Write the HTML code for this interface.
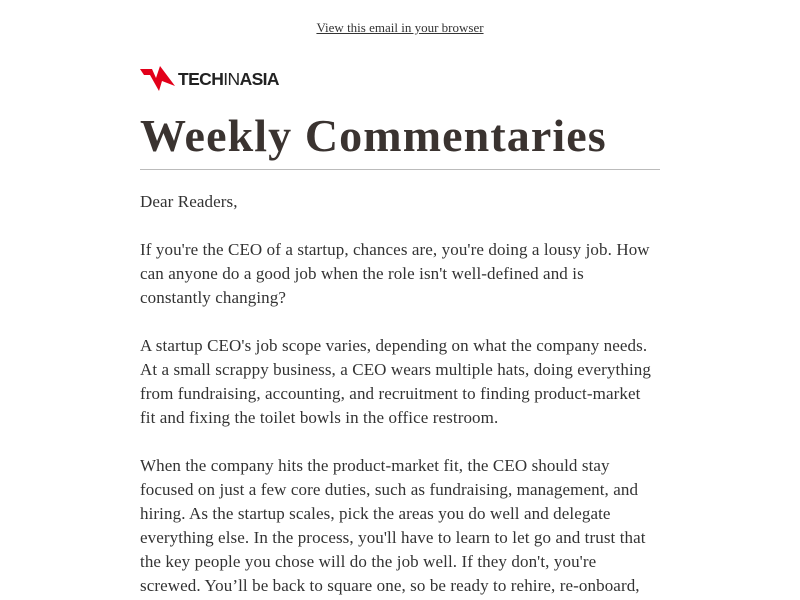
<!DOCTYPE html>
<html><head><meta charset="utf-8"><style>
body{margin:0;width:800px;height:600px;overflow:hidden;background:#fff;font-family:"Liberation Serif",serif;color:#333}
.top{position:absolute;top:20px;left:0;width:800px;text-align:center;font-size:13px;color:#333;text-decoration:underline}
.logo{position:absolute;left:140px;top:66px;display:flex;align-items:center}
.logo span{font-family:"Liberation Sans",sans-serif;font-weight:bold;font-size:17.5px;color:#222;letter-spacing:-0.6px;margin-left:2px}
h1{position:absolute;left:140px;top:109px;margin:0;font-size:46px;font-weight:bold;color:#3a3330;letter-spacing:1.1px;white-space:nowrap}
.rule{position:absolute;left:140px;top:169px;width:520px;height:1px;background:#bbb}
.txt{position:absolute;left:140px;font-size:17px;line-height:24px;white-space:nowrap;letter-spacing:0.1px}
.txt div{height:24px}
</style></head><body>
<div class="top">View this email in your browser</div>
<div class="logo">
<svg width="36" height="26" viewBox="0 0 36 26"><polygon points="0,3 12,3 16,12 20,0 35,20 22,15 19,25 10,9 4,9" fill="#e2001a"/></svg>
<span>TECH<span style="font-weight:normal;margin:0">IN</span>ASIA</span></div>
<h1>Weekly Commentaries</h1>
<div class="rule"></div>
<div class="txt" style="top:190px"><div>Dear Readers,</div></div>
<div class="txt" style="top:238px">
<div>If you're the CEO of a startup, chances are, you're doing a lousy job. How</div>
<div>can anyone do a good job when the role isn't well-defined and is</div>
<div>constantly changing?</div></div>
<div class="txt" style="top:334px">
<div>A startup CEO's job scope varies, depending on what the company needs.</div>
<div>At a small scrappy business, a CEO wears multiple hats, doing everything</div>
<div>from fundraising, accounting, and recruitment to finding product-market</div>
<div>fit and fixing the toilet bowls in the office restroom.</div></div>
<div class="txt" style="top:454px">
<div>When the company hits the product-market fit, the CEO should stay</div>
<div>focused on just a few core duties, such as fundraising, management, and</div>
<div>hiring. As the startup scales, pick the areas you do well and delegate</div>
<div>everything else. In the process, you'll have to learn to let go and trust that</div>
<div>the key people you chose will do the job well. If they don't, you're</div>
<div>screwed. You’ll be back to square one, so be ready to rehire, re-onboard,</div></div>
</body></html>
